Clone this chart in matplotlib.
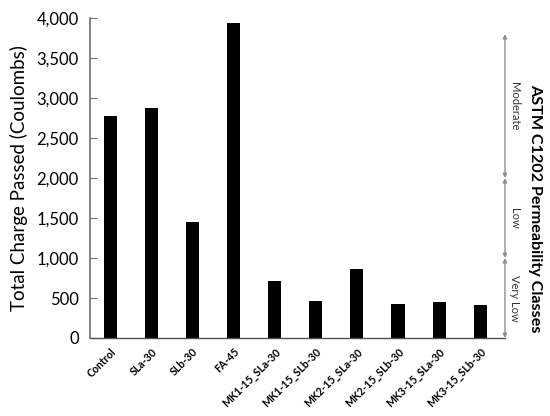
import matplotlib.pyplot as plt
from matplotlib.ticker import FuncFormatter

plt.rcParams["font.family"] = ["Lato", "DejaVu Sans"]

mixes = ["Control", "SLa-30", "SLb-30", "FA-45", "MK1-15_SLa-30", "MK1-15_SLb-30",
         "MK2-15_SLa-30", "MK2-15_SLb-30", "MK3-15_SLa-30", "MK3-15_SLb-30"]
charge = [2770, 2875, 1445, 3935, 712, 462, 862, 425, 450, 415]

class_names = ["Moderate", "Low", "Very Low"]
class_upper = [3800, 2000, 1000]
class_lower = [2000, 1000, 0]

fig = plt.figure(figsize=(5.5, 4.16), dpi=100)
ax = fig.add_axes([0.1636, 0.1875, 0.7545, 0.769])

x = list(range(len(mixes)))
ax.bar(x, charge, width=0.32, color="black")

ax.set_xlim(-0.49, 9.6)
ax.set_ylim(0, 4000)
ax.set_yticks(range(0, 4001, 500))
ax.yaxis.set_major_formatter(FuncFormatter(lambda v, p: f"{int(v):,}"))
ax.tick_params(axis="y", direction="in", length=5, color="#707070", labelsize=12, pad=8)
ax.set_xticks(x)
ax.set_xticklabels(mixes, rotation=45, ha="right", rotation_mode="anchor",
                   fontsize=7.6, fontweight="bold")
ax.tick_params(axis="x", length=0, pad=6)

for s in ["top", "right"]:
    ax.spines[s].set_visible(False)
ax.spines["left"].set_color("#707070")
ax.spines["bottom"].set_color("#505050")
ax.spines["left"].set_linewidth(1.2)
ax.spines["bottom"].set_linewidth(1.0)

ax.set_ylabel("Total Charge Passed (Coulombs)", fontsize=13.5, labelpad=6)

# permeability class arrows on the right edge
xa = 9.6
for name, hi, lo in zip(class_names, class_upper, class_lower):
    ax.annotate("", xy=(xa, hi), xytext=(xa, lo),
                arrowprops=dict(arrowstyle="<|-|>", color="#909090", lw=1.0,
                                mutation_scale=6, shrinkA=0, shrinkB=0),
                annotation_clip=False)
    ax.text(xa + 0.22, (hi + lo) / 2, name, rotation=-90, ha="center", va="center",
            fontsize=8, color="#333333", clip_on=False)

fig.text(0.972, 0.5, "ASTM C1202 Permeability Classes", rotation=-90,
         ha="center", va="center", fontsize=11.6, fontweight="bold")

fig.savefig("out.png", dpi=100)
